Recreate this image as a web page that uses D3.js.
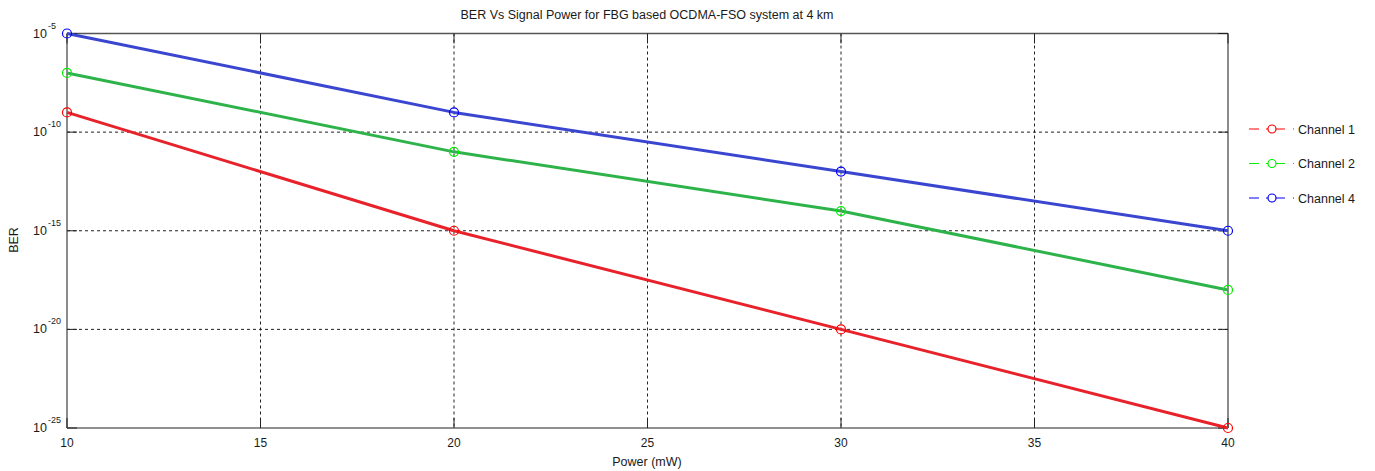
<!DOCTYPE html>
<html><head><meta charset="utf-8">
<script src="https://cdn.jsdelivr.net/npm/d3@7"></script>
<style>body{margin:0;background:#fff}svg{display:block}text{font-family:Arial,"Liberation Sans",sans-serif;fill:#1a1a1a}</style>
</head><body>
<svg id="c" width="1375" height="471"></svg>
<script>
const powers = [10, 20, 30, 40];
const ch1 = [1e-9, 1e-15, 1e-20, 1e-25];
const ch2 = [1e-7, 1e-11, 1e-14, 1e-18];
const ch4 = [1e-5, 1e-9, 1e-12, 1e-15];
const seriesNames = ["Channel 1", "Channel 2", "Channel 4"];
const xTicks = [10, 15, 20, 25, 30, 35, 40];
const yTickExps = [-5, -10, -15, -20, -25];

const lineColors = ["#e8222a", "#2db34a", "#3a46d0"];
const markColors = ["#ff0000", "#00ee00", "#0000ff"];
const seriesData = [ch1, ch2, ch4];

const svg = d3.select("#c");
const L = 67, R = 1228, T = 33.5, B = 428;
const x = d3.scaleLinear().domain([10, 40]).range([L, R]);
const y = d3.scaleLog().domain([1e-25, 1e-5]).range([B, T]);

// grid
const g = svg.append("g");
xTicks.forEach(v => {
  if (v === 10 || v === 40) return;
  g.append("line").attr("x1", x(v)).attr("x2", x(v)).attr("y1", T).attr("y2", B)
    .attr("stroke", "#222").attr("stroke-width", 1).attr("stroke-dasharray", "3,3");
});
yTickExps.forEach(e => {
  if (e === -5 || e === -25) return;
  g.append("line").attr("x1", L).attr("x2", R).attr("y1", y(Math.pow(10, e))).attr("y2", y(Math.pow(10, e)))
    .attr("stroke", "#222").attr("stroke-width", 1).attr("stroke-dasharray", "3,3");
});

// axis box
svg.append("line").attr("x1", L).attr("x2", R).attr("y1", T).attr("y2", T).attr("stroke", "#555").attr("stroke-width", 1.5);
svg.append("line").attr("x1", R).attr("x2", R).attr("y1", T).attr("y2", B).attr("stroke", "#666").attr("stroke-width", 1.5);
svg.append("line").attr("x1", L).attr("x2", L).attr("y1", T).attr("y2", B).attr("stroke", "#666").attr("stroke-width", 1.5);
svg.append("line").attr("x1", L).attr("x2", R).attr("y1", B).attr("y2", B).attr("stroke", "#222").attr("stroke-width", 1.2);

// ticks (inward)
xTicks.forEach(v => {
  svg.append("line").attr("x1", x(v)).attr("x2", x(v)).attr("y1", B).attr("y2", B - 10).attr("stroke", "#222");
  svg.append("line").attr("x1", x(v)).attr("x2", x(v)).attr("y1", T).attr("y2", T + 10).attr("stroke", "#222");
  svg.append("text").attr("x", x(v)).attr("y", B + 19).attr("text-anchor", "middle")
    .attr("font-size", 12).text(v);
});
yTickExps.forEach(e => {
  const yy = y(Math.pow(10, e));
  svg.append("line").attr("x1", L).attr("x2", L + 10).attr("y1", yy).attr("y2", yy).attr("stroke", "#222");
  svg.append("line").attr("x1", R).attr("x2", R - 10).attr("y1", yy).attr("y2", yy).attr("stroke", "#222");
  const t = svg.append("text").attr("x", 47).attr("y", yy + 4).attr("text-anchor", "end").attr("font-size", 12.5);
  t.text("10");
  svg.append("text").attr("x", 48).attr("y", yy - 5).attr("text-anchor", "start").attr("font-size", 9).text(String(e));
});

// series
const line = d3.line().x((d, i) => x(powers[i])).y(d => y(d));
seriesData.forEach((s, k) => {
  svg.append("path").datum(s).attr("d", line).attr("fill", "none")
    .attr("stroke", lineColors[k]).attr("stroke-width", 3).attr("stroke-linejoin", "round");
});
seriesData.forEach((s, k) => {
  svg.selectAll(null).data(s).enter().append("circle")
    .attr("cx", (d, i) => x(powers[i])).attr("cy", d => y(d)).attr("r", 4.5)
    .attr("fill", "none").attr("stroke", markColors[k]).attr("stroke-width", 1.2);
});

// legend
seriesNames.forEach((n, k) => {
  const ly = 129 + k * 34.5;
  svg.append("line").attr("x1", 1249).attr("x2", 1259).attr("y1", ly).attr("y2", ly).attr("stroke", markColors[k]).attr("stroke-width", 1);
  svg.append("line").attr("x1", 1266).attr("x2", 1285).attr("y1", ly).attr("y2", ly).attr("stroke", markColors[k]).attr("stroke-width", 1);
  svg.append("circle").attr("cx", 1272).attr("cy", ly).attr("r", 4).attr("fill", "#fff").attr("stroke", markColors[k]).attr("stroke-width", 1.2);
  svg.append("line").attr("x1", 1293).attr("x2", 1294).attr("y1", ly).attr("y2", ly).attr("stroke", markColors[k]).attr("stroke-width", 1);
  svg.append("text").attr("x", 1298).attr("y", ly + 4.5).attr("font-size", 12.5).text(n);
});

// titles
svg.append("text").attr("x", 647).attr("y", 19).attr("text-anchor", "middle").attr("font-size", 12.5)
  .text("BER Vs Signal Power for FBG based OCDMA-FSO system at 4 km");
svg.append("text").attr("x", 647).attr("y", 466).attr("text-anchor", "middle").attr("font-size", 12.5).text("Power (mW)");
svg.append("text").attr("transform", "translate(18,240) rotate(-90)").attr("text-anchor", "middle").attr("font-size", 12.5).text("BER");
</script>
</body></html>
